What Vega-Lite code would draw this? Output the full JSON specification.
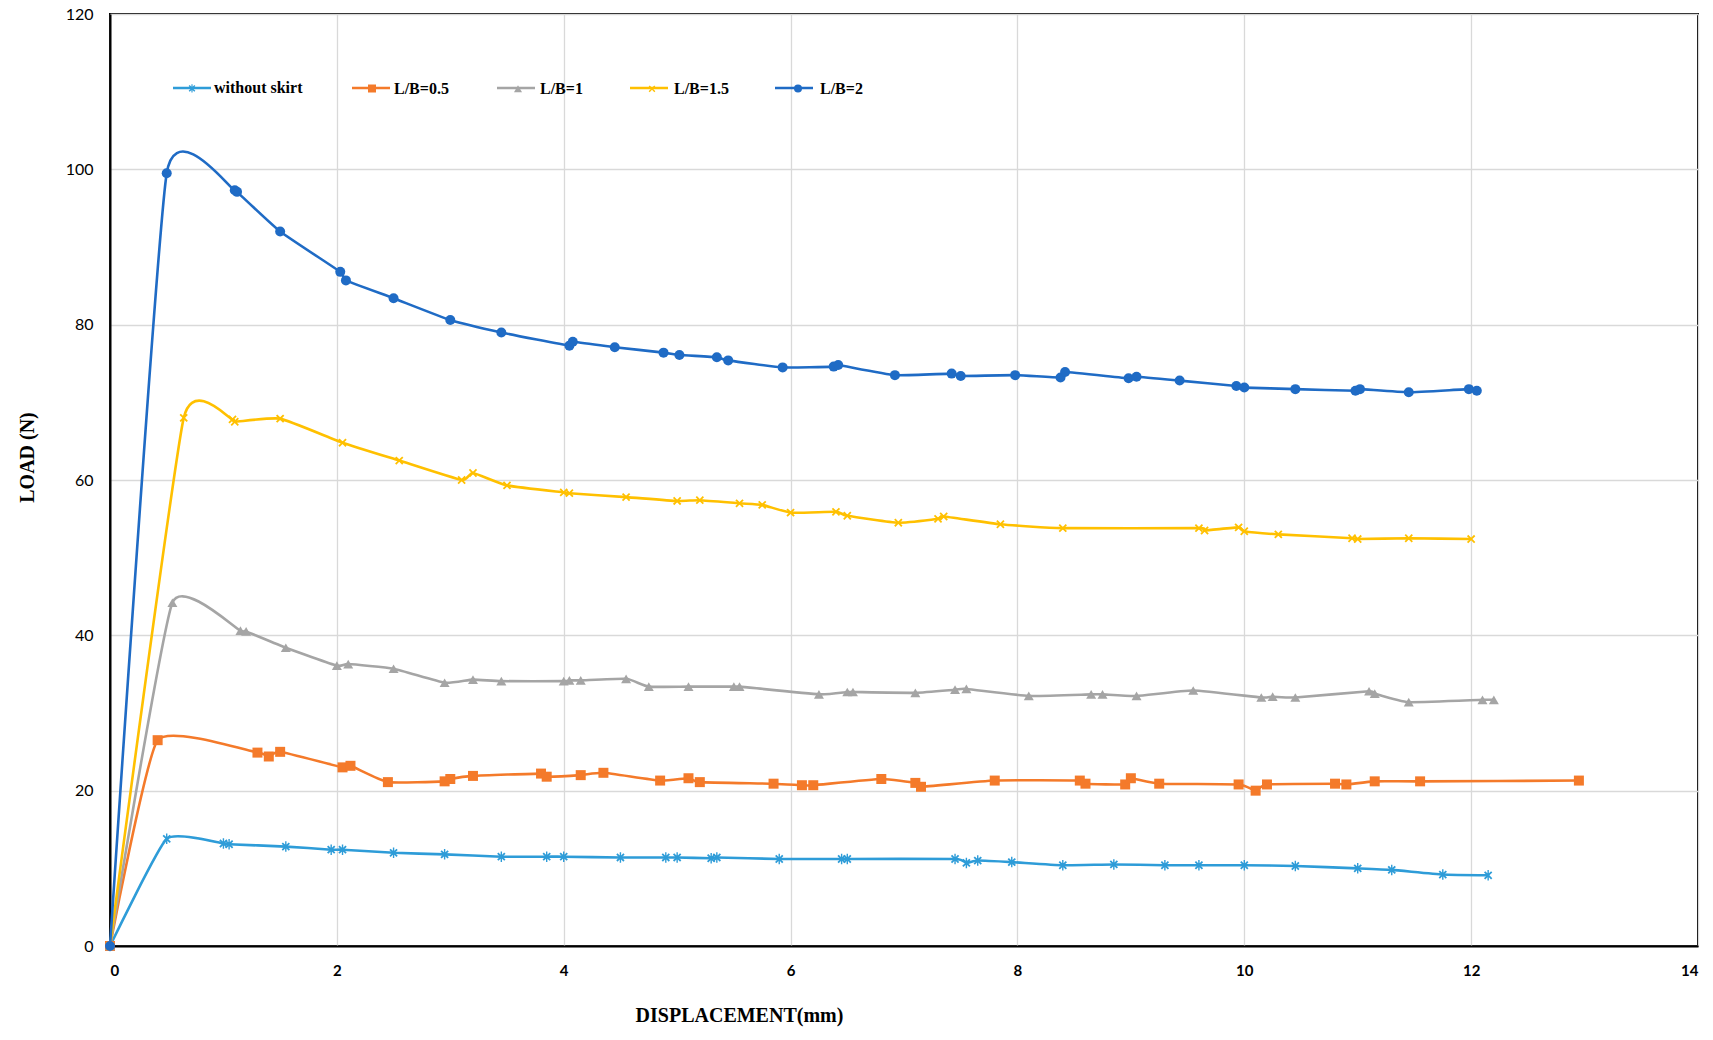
{
  "$schema": "https://vega.github.io/schema/vega-lite/v6.json",
  "width": 1588,
  "height": 932,
  "autosize": {"type": "none"},
  "padding": {"left": 110, "top": 14, "right": 15, "bottom": 94},
  "background": "white",
  "config": {
    "view": {"stroke": "black", "strokeWidth": 2},
    "axis": {
      "labelFont": "Lato",
      "titleFont": "Liberation Serif",
      "labelColor": "black",
      "titleColor": "black",
      "gridColor": "#d9d9d9",
      "gridWidth": 1.3,
      "domainColor": "black",
      "domainWidth": 2,
      "ticks": false,
      "tickSize": 0
    },
    "legend": {
      "title": null,
      "orient": "none",
      "legendX": 74,
      "legendY": 66,
      "direction": "horizontal",
      "padding": 0,
      "symbolSize": 64,
      "symbolStrokeWidth": 2.5,
      "symbolOpacity": 1,
      "labelOffset": 14,
      "labelFont": "Liberation Serif",
      "labelFontWeight": "bold",
      "labelFontSize": 16,
      "labelBaseline": "middle"
    }
  },
  "data": {
    "values": [
      {"series": "without skirt", "x": 0, "y": 0},
      {"series": "without skirt", "x": 0.5, "y": 13.8},
      {"series": "without skirt", "x": 1.0, "y": 13.2},
      {"series": "without skirt", "x": 1.05, "y": 13.1},
      {"series": "without skirt", "x": 1.55, "y": 12.8},
      {"series": "without skirt", "x": 1.95, "y": 12.4},
      {"series": "without skirt", "x": 2.05, "y": 12.4},
      {"series": "without skirt", "x": 2.5, "y": 12.0},
      {"series": "without skirt", "x": 2.95, "y": 11.8},
      {"series": "without skirt", "x": 3.45, "y": 11.5},
      {"series": "without skirt", "x": 3.85, "y": 11.5},
      {"series": "without skirt", "x": 4.0, "y": 11.5},
      {"series": "without skirt", "x": 4.5, "y": 11.4},
      {"series": "without skirt", "x": 4.9, "y": 11.4},
      {"series": "without skirt", "x": 5.0, "y": 11.4},
      {"series": "without skirt", "x": 5.3, "y": 11.3},
      {"series": "without skirt", "x": 5.35, "y": 11.4},
      {"series": "without skirt", "x": 5.9, "y": 11.2},
      {"series": "without skirt", "x": 6.45, "y": 11.2},
      {"series": "without skirt", "x": 6.5, "y": 11.2},
      {"series": "without skirt", "x": 7.45, "y": 11.2},
      {"series": "without skirt", "x": 7.55, "y": 10.7},
      {"series": "without skirt", "x": 7.65, "y": 11.0},
      {"series": "without skirt", "x": 7.95, "y": 10.8},
      {"series": "without skirt", "x": 8.4, "y": 10.4},
      {"series": "without skirt", "x": 8.85, "y": 10.5},
      {"series": "without skirt", "x": 9.3, "y": 10.4},
      {"series": "without skirt", "x": 9.6, "y": 10.4},
      {"series": "without skirt", "x": 10.0, "y": 10.4},
      {"series": "without skirt", "x": 10.45, "y": 10.3},
      {"series": "without skirt", "x": 11.0, "y": 10.0},
      {"series": "without skirt", "x": 11.3, "y": 9.8},
      {"series": "without skirt", "x": 11.75, "y": 9.2},
      {"series": "without skirt", "x": 12.15, "y": 9.1},

      {"series": "L/B=0.5", "x": 0, "y": 0},
      {"series": "L/B=0.5", "x": 0.42, "y": 26.5},
      {"series": "L/B=0.5", "x": 1.3, "y": 24.9},
      {"series": "L/B=0.5", "x": 1.4, "y": 24.4},
      {"series": "L/B=0.5", "x": 1.5, "y": 25.0},
      {"series": "L/B=0.5", "x": 2.05, "y": 23.0},
      {"series": "L/B=0.5", "x": 2.12, "y": 23.2},
      {"series": "L/B=0.5", "x": 2.45, "y": 21.1},
      {"series": "L/B=0.5", "x": 2.95, "y": 21.2},
      {"series": "L/B=0.5", "x": 3.0, "y": 21.5},
      {"series": "L/B=0.5", "x": 3.2, "y": 21.9},
      {"series": "L/B=0.5", "x": 3.8, "y": 22.2},
      {"series": "L/B=0.5", "x": 3.85, "y": 21.8},
      {"series": "L/B=0.5", "x": 4.15, "y": 22.0},
      {"series": "L/B=0.5", "x": 4.35, "y": 22.3},
      {"series": "L/B=0.5", "x": 4.85, "y": 21.3},
      {"series": "L/B=0.5", "x": 5.1, "y": 21.6},
      {"series": "L/B=0.5", "x": 5.2, "y": 21.1},
      {"series": "L/B=0.5", "x": 5.85, "y": 20.9},
      {"series": "L/B=0.5", "x": 6.1, "y": 20.7},
      {"series": "L/B=0.5", "x": 6.2, "y": 20.7},
      {"series": "L/B=0.5", "x": 6.8, "y": 21.5},
      {"series": "L/B=0.5", "x": 7.1, "y": 21.0},
      {"series": "L/B=0.5", "x": 7.15, "y": 20.5},
      {"series": "L/B=0.5", "x": 7.8, "y": 21.3},
      {"series": "L/B=0.5", "x": 8.55, "y": 21.3},
      {"series": "L/B=0.5", "x": 8.6, "y": 20.9},
      {"series": "L/B=0.5", "x": 8.95, "y": 20.8},
      {"series": "L/B=0.5", "x": 9.0, "y": 21.6},
      {"series": "L/B=0.5", "x": 9.25, "y": 20.9},
      {"series": "L/B=0.5", "x": 9.95, "y": 20.8},
      {"series": "L/B=0.5", "x": 10.1, "y": 20.0},
      {"series": "L/B=0.5", "x": 10.2, "y": 20.8},
      {"series": "L/B=0.5", "x": 10.8, "y": 20.9},
      {"series": "L/B=0.5", "x": 10.9, "y": 20.8},
      {"series": "L/B=0.5", "x": 11.15, "y": 21.2},
      {"series": "L/B=0.5", "x": 11.55, "y": 21.2},
      {"series": "L/B=0.5", "x": 12.95, "y": 21.3},

      {"series": "L/B=1", "x": 0, "y": 0},
      {"series": "L/B=1", "x": 0.55, "y": 44.2},
      {"series": "L/B=1", "x": 1.15, "y": 40.6},
      {"series": "L/B=1", "x": 1.2, "y": 40.5},
      {"series": "L/B=1", "x": 1.55, "y": 38.4},
      {"series": "L/B=1", "x": 2.0, "y": 36.1},
      {"series": "L/B=1", "x": 2.1, "y": 36.3},
      {"series": "L/B=1", "x": 2.5, "y": 35.7},
      {"series": "L/B=1", "x": 2.95, "y": 33.9},
      {"series": "L/B=1", "x": 3.2, "y": 34.3},
      {"series": "L/B=1", "x": 3.45, "y": 34.1},
      {"series": "L/B=1", "x": 4.0, "y": 34.1},
      {"series": "L/B=1", "x": 4.05, "y": 34.2},
      {"series": "L/B=1", "x": 4.15, "y": 34.2},
      {"series": "L/B=1", "x": 4.55, "y": 34.4},
      {"series": "L/B=1", "x": 4.75, "y": 33.4},
      {"series": "L/B=1", "x": 5.1, "y": 33.4},
      {"series": "L/B=1", "x": 5.5, "y": 33.4},
      {"series": "L/B=1", "x": 5.55, "y": 33.4},
      {"series": "L/B=1", "x": 6.25, "y": 32.4},
      {"series": "L/B=1", "x": 6.5, "y": 32.7},
      {"series": "L/B=1", "x": 6.55, "y": 32.7},
      {"series": "L/B=1", "x": 7.1, "y": 32.6},
      {"series": "L/B=1", "x": 7.45, "y": 33.0},
      {"series": "L/B=1", "x": 7.55, "y": 33.1},
      {"series": "L/B=1", "x": 8.1, "y": 32.2},
      {"series": "L/B=1", "x": 8.65, "y": 32.4},
      {"series": "L/B=1", "x": 8.75, "y": 32.4},
      {"series": "L/B=1", "x": 9.05, "y": 32.2},
      {"series": "L/B=1", "x": 9.55, "y": 32.9},
      {"series": "L/B=1", "x": 10.15, "y": 32.0},
      {"series": "L/B=1", "x": 10.25, "y": 32.1},
      {"series": "L/B=1", "x": 10.45, "y": 32.0},
      {"series": "L/B=1", "x": 11.1, "y": 32.8},
      {"series": "L/B=1", "x": 11.15, "y": 32.5},
      {"series": "L/B=1", "x": 11.45, "y": 31.4},
      {"series": "L/B=1", "x": 12.1, "y": 31.7},
      {"series": "L/B=1", "x": 12.2, "y": 31.7},

      {"series": "L/B=1.5", "x": 0, "y": 0},
      {"series": "L/B=1.5", "x": 0.65, "y": 68.0},
      {"series": "L/B=1.5", "x": 1.08, "y": 67.8},
      {"series": "L/B=1.5", "x": 1.1, "y": 67.5},
      {"series": "L/B=1.5", "x": 1.5, "y": 67.9},
      {"series": "L/B=1.5", "x": 2.05, "y": 64.8},
      {"series": "L/B=1.5", "x": 2.55, "y": 62.5},
      {"series": "L/B=1.5", "x": 3.1, "y": 60.0},
      {"series": "L/B=1.5", "x": 3.2, "y": 60.9},
      {"series": "L/B=1.5", "x": 3.5, "y": 59.3},
      {"series": "L/B=1.5", "x": 4.0, "y": 58.4},
      {"series": "L/B=1.5", "x": 4.05, "y": 58.3},
      {"series": "L/B=1.5", "x": 4.55, "y": 57.8},
      {"series": "L/B=1.5", "x": 5.0, "y": 57.3},
      {"series": "L/B=1.5", "x": 5.2, "y": 57.4},
      {"series": "L/B=1.5", "x": 5.55, "y": 57.0},
      {"series": "L/B=1.5", "x": 5.75, "y": 56.8},
      {"series": "L/B=1.5", "x": 6.0, "y": 55.8},
      {"series": "L/B=1.5", "x": 6.4, "y": 55.9},
      {"series": "L/B=1.5", "x": 6.5, "y": 55.4},
      {"series": "L/B=1.5", "x": 6.95, "y": 54.5},
      {"series": "L/B=1.5", "x": 7.3, "y": 55.0},
      {"series": "L/B=1.5", "x": 7.35, "y": 55.3},
      {"series": "L/B=1.5", "x": 7.85, "y": 54.3},
      {"series": "L/B=1.5", "x": 8.4, "y": 53.8},
      {"series": "L/B=1.5", "x": 9.6, "y": 53.8},
      {"series": "L/B=1.5", "x": 9.65, "y": 53.5},
      {"series": "L/B=1.5", "x": 9.95, "y": 53.9},
      {"series": "L/B=1.5", "x": 10.0, "y": 53.4},
      {"series": "L/B=1.5", "x": 10.3, "y": 53.0},
      {"series": "L/B=1.5", "x": 10.95, "y": 52.5},
      {"series": "L/B=1.5", "x": 11.0, "y": 52.4},
      {"series": "L/B=1.5", "x": 11.45, "y": 52.5},
      {"series": "L/B=1.5", "x": 12.0, "y": 52.4},

      {"series": "L/B=2", "x": 0, "y": 0},
      {"series": "L/B=2", "x": 0.5, "y": 99.5},
      {"series": "L/B=2", "x": 1.1, "y": 97.3},
      {"series": "L/B=2", "x": 1.12, "y": 97.1},
      {"series": "L/B=2", "x": 1.5, "y": 92.0},
      {"series": "L/B=2", "x": 2.03, "y": 86.8},
      {"series": "L/B=2", "x": 2.08, "y": 85.7},
      {"series": "L/B=2", "x": 2.5, "y": 83.4},
      {"series": "L/B=2", "x": 3.0, "y": 80.6},
      {"series": "L/B=2", "x": 3.45, "y": 79.0},
      {"series": "L/B=2", "x": 4.05, "y": 77.3},
      {"series": "L/B=2", "x": 4.08, "y": 77.8},
      {"series": "L/B=2", "x": 4.45, "y": 77.1},
      {"series": "L/B=2", "x": 4.88, "y": 76.4},
      {"series": "L/B=2", "x": 5.02, "y": 76.1},
      {"series": "L/B=2", "x": 5.35, "y": 75.8},
      {"series": "L/B=2", "x": 5.45, "y": 75.4},
      {"series": "L/B=2", "x": 5.93, "y": 74.5},
      {"series": "L/B=2", "x": 6.38, "y": 74.6},
      {"series": "L/B=2", "x": 6.42, "y": 74.8},
      {"series": "L/B=2", "x": 6.92, "y": 73.5},
      {"series": "L/B=2", "x": 7.42, "y": 73.7},
      {"series": "L/B=2", "x": 7.5, "y": 73.4},
      {"series": "L/B=2", "x": 7.98, "y": 73.5},
      {"series": "L/B=2", "x": 8.38, "y": 73.2},
      {"series": "L/B=2", "x": 8.42, "y": 73.9},
      {"series": "L/B=2", "x": 8.98, "y": 73.1},
      {"series": "L/B=2", "x": 9.05, "y": 73.3},
      {"series": "L/B=2", "x": 9.43, "y": 72.8},
      {"series": "L/B=2", "x": 9.93, "y": 72.1},
      {"series": "L/B=2", "x": 10.0, "y": 71.9},
      {"series": "L/B=2", "x": 10.45, "y": 71.7},
      {"series": "L/B=2", "x": 10.98, "y": 71.5},
      {"series": "L/B=2", "x": 11.02, "y": 71.7},
      {"series": "L/B=2", "x": 11.45, "y": 71.3},
      {"series": "L/B=2", "x": 11.98, "y": 71.7},
      {"series": "L/B=2", "x": 12.05, "y": 71.5}
    ]
  },
  "encoding": {
    "x": {
      "field": "x",
      "type": "quantitative",
      "scale": {"domain": [0, 14], "nice": false, "zero": false},
      "axis": {
        "values": [0, 2, 4, 6, 8, 10, 12, 14],
        "title": "DISPLACEMENT(mm)",
        "titleFontSize": 20,
        "titleFontWeight": "bold",
        "titleX": 629,
        "titleY": 69,
        "titleBaseline": "middle",
        "labelFontSize": 15,
        "labelFontWeight": "bold",
        "labelPadding": 17
      }
    },
    "y": {
      "field": "y",
      "type": "quantitative",
      "scale": {"domain": [0, 120], "nice": false},
      "axis": {
        "values": [0, 20, 40, 60, 80, 100, 120],
        "title": "LOAD (N)",
        "titleFontSize": 20,
        "titleFontWeight": "bold",
        "titleX": -83,
        "titleY": 443,
        "titleAngle": -90,
        "titleBaseline": "middle",
        "labelFontSize": 16,
        "labelPadding": 17
      }
    }
  },
  "layer": [
    {
      "mark": {"type": "line", "interpolate": "cardinal", "tension": 0.55, "strokeWidth": 2.6},
      "encoding": {
        "order": {"field": "x", "type": "quantitative"},
        "stroke": {
          "field": "series",
          "type": "nominal",
          "sort": ["without skirt", "L/B=0.5", "L/B=1", "L/B=1.5", "L/B=2"],
          "scale": {"range": ["#2e9cd8", "#f47a2a", "#a5a5a5", "#ffc000", "#1f6bc5"]},
          "legend": {
            "symbolType": "M-4.75,0H4.75",
            "labelColor": "transparent",
            "columnPadding": 44
          }
        }
      }
    },
    {
      "mark": {"type": "point", "filled": true, "size": 100, "strokeWidth": 0, "opacity": 1},
      "encoding": {
        "color": {
          "field": "series",
          "type": "nominal",
          "scale": {
            "domain": ["without skirt", "L/B=0.5", "L/B=1", "L/B=1.5", "L/B=2"],
            "range": ["#2e9cd8", "#f47a2a", "#a5a5a5", "#ffc000", "#1f6bc5"]
          },
          "legend": {
            "labelColor": "black",
            "symbolStrokeColor": "transparent",
            "columnPadding": 60
          }
        },
        "shape": {
          "field": "series",
          "type": "nominal",
          "scale": {
            "domain": ["without skirt", "L/B=0.5", "L/B=1", "L/B=1.5", "L/B=2"],
            "range": [
              "M0.58,-0.834L0.834,-0.58L0.255,0L0.834,0.58L0.58,0.834L0,0.255L-0.58,0.834L-0.834,0.58L-0.255,0L-0.834,-0.58L-0.58,-0.834L0,-0.255ZM-0.14,-1.05H0.14V1.05H-0.14Z",
              "square",
              "triangle-up",
              "M0.58,-0.834L0.834,-0.58L0.255,0L0.834,0.58L0.58,0.834L0,0.255L-0.58,0.834L-0.834,0.58L-0.255,0L-0.834,-0.58L-0.58,-0.834L0,-0.255Z",
              "circle"
            ]
          }
        }
      }
    }
  ]
}
